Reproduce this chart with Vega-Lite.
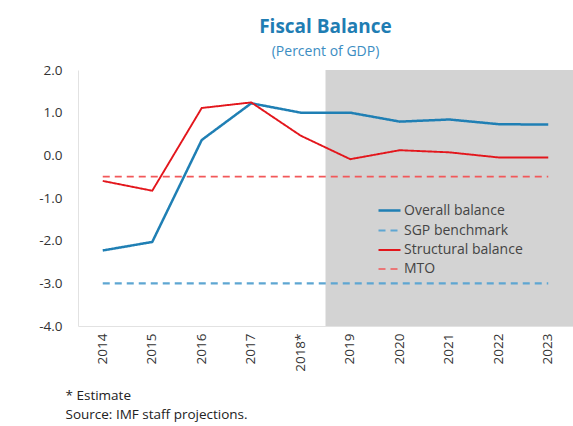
{
  "$schema": "https://vega.github.io/schema/vega-lite/v6.json",
  "width": 495,
  "height": 256,
  "autosize": {"type": "none"},
  "padding": {"left": 78, "top": 70, "right": 0, "bottom": 100},
  "background": "white",
  "title": {
    "text": "Fiscal Balance",
    "subtitle": "(Percent of GDP)",
    "anchor": "middle",
    "font": "Open Sans",
    "fontSize": 19,
    "fontWeight": "bold",
    "color": "#1f7db3",
    "subtitleFont": "Open Sans",
    "subtitleFontSize": 14,
    "subtitleColor": "#3b8dc2",
    "subtitlePadding": 8,
    "offset": 4
  },
  "config": {
    "view": {"stroke": null},
    "font": "Open Sans",
    "axis": {"grid": false, "ticks": false, "domainColor": "#e2e2e2", "labelColor": "#333333", "labelFont": "Open Sans", "labelFontSize": 13.5}
  },
  "datasets": {
    "series": [
      {"year": "2014", "series": "Overall balance", "value": -2.23},
      {"year": "2015", "series": "Overall balance", "value": -2.03},
      {"year": "2016", "series": "Overall balance", "value": 0.36},
      {"year": "2017", "series": "Overall balance", "value": 1.22},
      {"year": "2018*", "series": "Overall balance", "value": 1.0},
      {"year": "2019", "series": "Overall balance", "value": 1.0},
      {"year": "2020", "series": "Overall balance", "value": 0.79},
      {"year": "2021", "series": "Overall balance", "value": 0.84},
      {"year": "2022", "series": "Overall balance", "value": 0.73},
      {"year": "2023", "series": "Overall balance", "value": 0.72},
      {"year": "2014", "series": "SGP benchmark", "value": -3.0},
      {"year": "2015", "series": "SGP benchmark", "value": -3.0},
      {"year": "2016", "series": "SGP benchmark", "value": -3.0},
      {"year": "2017", "series": "SGP benchmark", "value": -3.0},
      {"year": "2018*", "series": "SGP benchmark", "value": -3.0},
      {"year": "2019", "series": "SGP benchmark", "value": -3.0},
      {"year": "2020", "series": "SGP benchmark", "value": -3.0},
      {"year": "2021", "series": "SGP benchmark", "value": -3.0},
      {"year": "2022", "series": "SGP benchmark", "value": -3.0},
      {"year": "2023", "series": "SGP benchmark", "value": -3.0},
      {"year": "2014", "series": "Structural balance", "value": -0.6},
      {"year": "2015", "series": "Structural balance", "value": -0.83},
      {"year": "2016", "series": "Structural balance", "value": 1.11},
      {"year": "2017", "series": "Structural balance", "value": 1.24},
      {"year": "2018*", "series": "Structural balance", "value": 0.46},
      {"year": "2019", "series": "Structural balance", "value": -0.09},
      {"year": "2020", "series": "Structural balance", "value": 0.12},
      {"year": "2021", "series": "Structural balance", "value": 0.07},
      {"year": "2022", "series": "Structural balance", "value": -0.05},
      {"year": "2023", "series": "Structural balance", "value": -0.05},
      {"year": "2014", "series": "MTO", "value": -0.5},
      {"year": "2015", "series": "MTO", "value": -0.5},
      {"year": "2016", "series": "MTO", "value": -0.5},
      {"year": "2017", "series": "MTO", "value": -0.5},
      {"year": "2018*", "series": "MTO", "value": -0.5},
      {"year": "2019", "series": "MTO", "value": -0.5},
      {"year": "2020", "series": "MTO", "value": -0.5},
      {"year": "2021", "series": "MTO", "value": -0.5},
      {"year": "2022", "series": "MTO", "value": -0.5},
      {"year": "2023", "series": "MTO", "value": -0.5}
    ],
    "shade": [{"from": "2019", "to": "2023"}]
  },
  "layer": [
    {
      "data": {"name": "shade"},
      "mark": {"type": "rect", "color": "#d3d3d3"},
      "encoding": {
        "x": {"field": "from", "type": "ordinal", "bandPosition": 0},
        "x2": {"field": "to", "bandPosition": 1}
      }
    },
    {
      "data": {"name": "series"},
      "mark": {"type": "line"},
      "encoding": {
        "x": {
          "field": "year",
          "type": "ordinal",
          "sort": null,
          "scale": {"type": "band", "domain": ["2014","2015","2016","2017","2018*","2019","2020","2021","2022","2023"], "paddingInner": 0, "paddingOuter": 0},
          "axis": {
            "labelAngle": -90,
            "labelPadding": 7,
            "title": ["* Estimate", "Source: IMF staff projections."],
            "titleAnchor": "start",
            "titleAlign": "left",
            "titleX": -13,
            "titleY": 62,
            "titleFont": "Open Sans",
            "titleFontSize": 13.5,
            "titleFontWeight": "normal",
            "titleColor": "#222222",
            "titleLineHeight": 19
          }
        },
        "y": {
          "field": "value",
          "type": "quantitative",
          "scale": {"domain": [-4, 2], "nice": false},
          "axis": {"values": [-4,-3,-2,-1,0,1,2], "labelExpr": "replace(format(datum.value, '.1f'), '\u2212', '-')", "title": null, "labelPadding": 16}
        },
        "color": {
          "field": "series",
          "type": "nominal",
          "scale": {"domain": ["Overall balance", "SGP benchmark", "Structural balance", "MTO"], "range": ["#1f7fb4", "#5ea6d2", "#e3161c", "#f2585a"]},
          "legend": {
            "title": null,
            "orient": "none",
            "legendX": 299,
            "legendY": 128,
            "symbolType": "stroke",
            "symbolSize": 484,
            "symbolStrokeWidth": 2,
            "labelFont": "Open Sans",
            "labelFontSize": 14,
            "labelColor": "#444444",
            "rowPadding": -3,
            "labelOffset": 2
          }
        },
        "strokeDash": {
          "field": "series",
          "type": "nominal",
          "scale": {"domain": ["Overall balance", "SGP benchmark", "Structural balance", "MTO"], "range": [[1,0],[7,5],[1,0],[7,5]]},
          "legend": {
            "title": null,
            "orient": "none",
            "legendX": 299,
            "legendY": 128,
            "symbolType": "stroke",
            "symbolSize": 484,
            "symbolStrokeWidth": 2,
            "labelFont": "Open Sans",
            "labelFontSize": 14,
            "labelColor": "#444444",
            "rowPadding": -3,
            "labelOffset": 2
          }
        },
        "strokeWidth": {
          "field": "series",
          "type": "nominal",
          "scale": {"domain": ["Overall balance", "SGP benchmark", "Structural balance", "MTO"], "range": [2.5, 1.6, 2.5, 1.6]},
          "legend": null
        }
      }
    }
  ]
}
